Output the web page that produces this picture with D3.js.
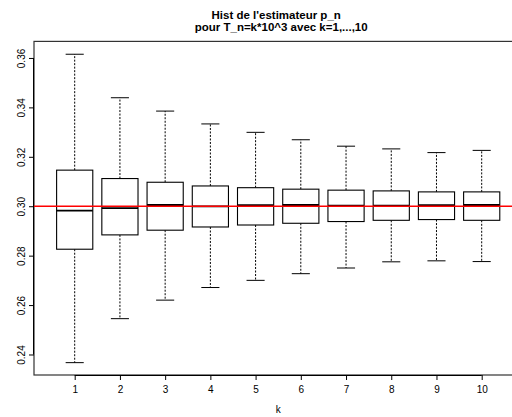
<!DOCTYPE html>
<html>
<head>
<meta charset="utf-8">
<script src="https://cdn.jsdelivr.net/npm/d3@7"></script>
<style>
  body { margin: 0; background: #fff; }
  svg { display: block; font-family: "Liberation Sans", Arial, Helvetica, sans-serif; }
</style>
</head>
<body>
<svg id="chart"></svg>
<script>
// Canvas
const width = 512, height = 417;
const svg = d3.select("#chart").attr("width", width).attr("height", height);

// Data (k = 1..10)
const ks       = [1, 2, 3, 4, 5, 6, 7, 8, 9, 10];
const whiskLow = [0.2367, 0.2545, 0.2620, 0.2671, 0.2700, 0.2727, 0.2750, 0.2775, 0.2779, 0.2776];
const q1       = [0.2826, 0.2884, 0.2903, 0.2916, 0.2924, 0.2931, 0.2938, 0.2943, 0.2946, 0.2943];
const medians  = [0.2982, 0.2992, 0.3005, 0.2999, 0.3004, 0.3005, 0.3002, 0.3002, 0.3004, 0.3005];
const q3       = [0.3146, 0.3112, 0.3097, 0.3082, 0.3075, 0.3069, 0.3065, 0.3062, 0.3058, 0.3058];
const whiskHigh= [0.3615, 0.3439, 0.3385, 0.3333, 0.3299, 0.3269, 0.3243, 0.3232, 0.3217, 0.3226];
const yTicks   = [0.24, 0.26, 0.28, 0.30, 0.32, 0.34, 0.36];
const refValue = 0.30;

// Plot region (R default margins; right side runs past the window)
const plotL = 34, plotR = 522.4, plotT = 41.4, plotB = 375;

const x = d3.scaleLinear().domain([0.1, 10.9]).range([plotL, plotR]);
const y = d3.scaleLinear().domain([0.2317, 0.3667]).range([plotB, plotT]);

const boxW = (x(1) - x(0)) * 0.8;
const stapleW = boxW / 2;

const boxes = ks.map((k, i) => ({
  k, lo: whiskLow[i], q1: q1[i], med: medians[i], q3: q3[i], hi: whiskHigh[i]
}));

const g = svg.append("g");

// whiskers (dashed)
g.selectAll("line.wlow").data(boxes).join("line")
  .attr("x1", d => x(d.k)).attr("x2", d => x(d.k))
  .attr("y1", d => y(d.q1)).attr("y2", d => y(d.lo))
  .attr("stroke", "#000").attr("stroke-width", 1).attr("stroke-dasharray", "2,1.5");
g.selectAll("line.whigh").data(boxes).join("line")
  .attr("x1", d => x(d.k)).attr("x2", d => x(d.k))
  .attr("y1", d => y(d.q3)).attr("y2", d => y(d.hi))
  .attr("stroke", "#000").attr("stroke-width", 1).attr("stroke-dasharray", "2,1.5");

// staples
["lo", "hi"].forEach(key => {
  g.append("g").selectAll("line").data(boxes).join("line")
    .attr("x1", d => x(d.k) - stapleW / 2).attr("x2", d => x(d.k) + stapleW / 2)
    .attr("y1", d => y(d[key])).attr("y2", d => y(d[key]))
    .attr("stroke", "#000").attr("stroke-width", 1);
});

// boxes
g.append("g").selectAll("rect").data(boxes).join("rect")
  .attr("x", d => x(d.k) - boxW / 2).attr("width", boxW)
  .attr("y", d => y(d.q3)).attr("height", d => y(d.q1) - y(d.q3))
  .attr("fill", "#fff").attr("stroke", "#000").attr("stroke-width", 1.1);

// medians
g.append("g").selectAll("line").data(boxes).join("line")
  .attr("x1", d => x(d.k) - boxW / 2).attr("x2", d => x(d.k) + boxW / 2)
  .attr("y1", d => y(d.med)).attr("y2", d => y(d.med))
  .attr("stroke", "#000").attr("stroke-width", 1.8);

// frame
svg.append("rect")
  .attr("x", plotL).attr("y", plotT).attr("width", plotR - plotL).attr("height", plotB - plotT)
  .attr("fill", "none").attr("stroke", "#333").attr("stroke-width", 1.2);

// reference line at p = 0.3
svg.append("line")
  .attr("x1", plotL).attr("x2", width)
  .attr("y1", y(refValue)).attr("y2", y(refValue))
  .attr("stroke", "#ff0000").attr("stroke-width", 1.5);

// y axis
const yAxis = svg.append("g")
  .attr("transform", `translate(${plotL},0)`)
  .call(d3.axisLeft(y).tickValues(yTicks).tickSize(5).tickFormat(d3.format(".2f")));
yAxis.select(".domain").attr("d", `M-0.5,${y(yTicks[0])}V${y(yTicks[yTicks.length - 1])}`)
  .attr("stroke", "#000");
yAxis.selectAll(".tick text")
  .attr("x", 0).attr("dy", 0)
  .attr("transform", "translate(-9,0) rotate(-90)")
  .attr("text-anchor", "middle")
  .attr("font-size", 10).attr("fill", "#000")
  .style("font-family", "Liberation Sans, Arial, sans-serif");

// x axis
const xAxis = svg.append("g")
  .attr("transform", `translate(0,${plotB})`)
  .call(d3.axisBottom(x).tickValues(ks).tickSize(5).tickFormat(d3.format("d")));
xAxis.select(".domain").attr("d", `M${x(1)},0.5H${x(10)}`).attr("stroke", "#000");
xAxis.selectAll(".tick text")
  .attr("y", 17.5).attr("dy", 0)
  .attr("font-size", 10).attr("fill", "#000")
  .style("font-family", "Liberation Sans, Arial, sans-serif");

// x label
svg.append("text")
  .attr("x", (plotL + plotR) / 2).attr("y", 412.5)
  .attr("text-anchor", "middle").attr("font-size", 10).attr("fill", "#000")
  .text("k");

// title
const titleLines = ["Hist de l'estimateur p_n", "pour T_n=k*10^3 avec k=1,...,10"];
svg.append("g").selectAll("text").data(titleLines).join("text")
  .attr("x", (d, i) => (plotL + plotR) / 2 + (i === 0 ? -2 : 3))
  .attr("y", (d, i) => 18.5 + i * 12.5)
  .attr("text-anchor", "middle")
  .attr("font-size", 11.5).attr("font-weight", "bold").attr("fill", "#000")
  .text(d => d);
</script>
</body>
</html>
